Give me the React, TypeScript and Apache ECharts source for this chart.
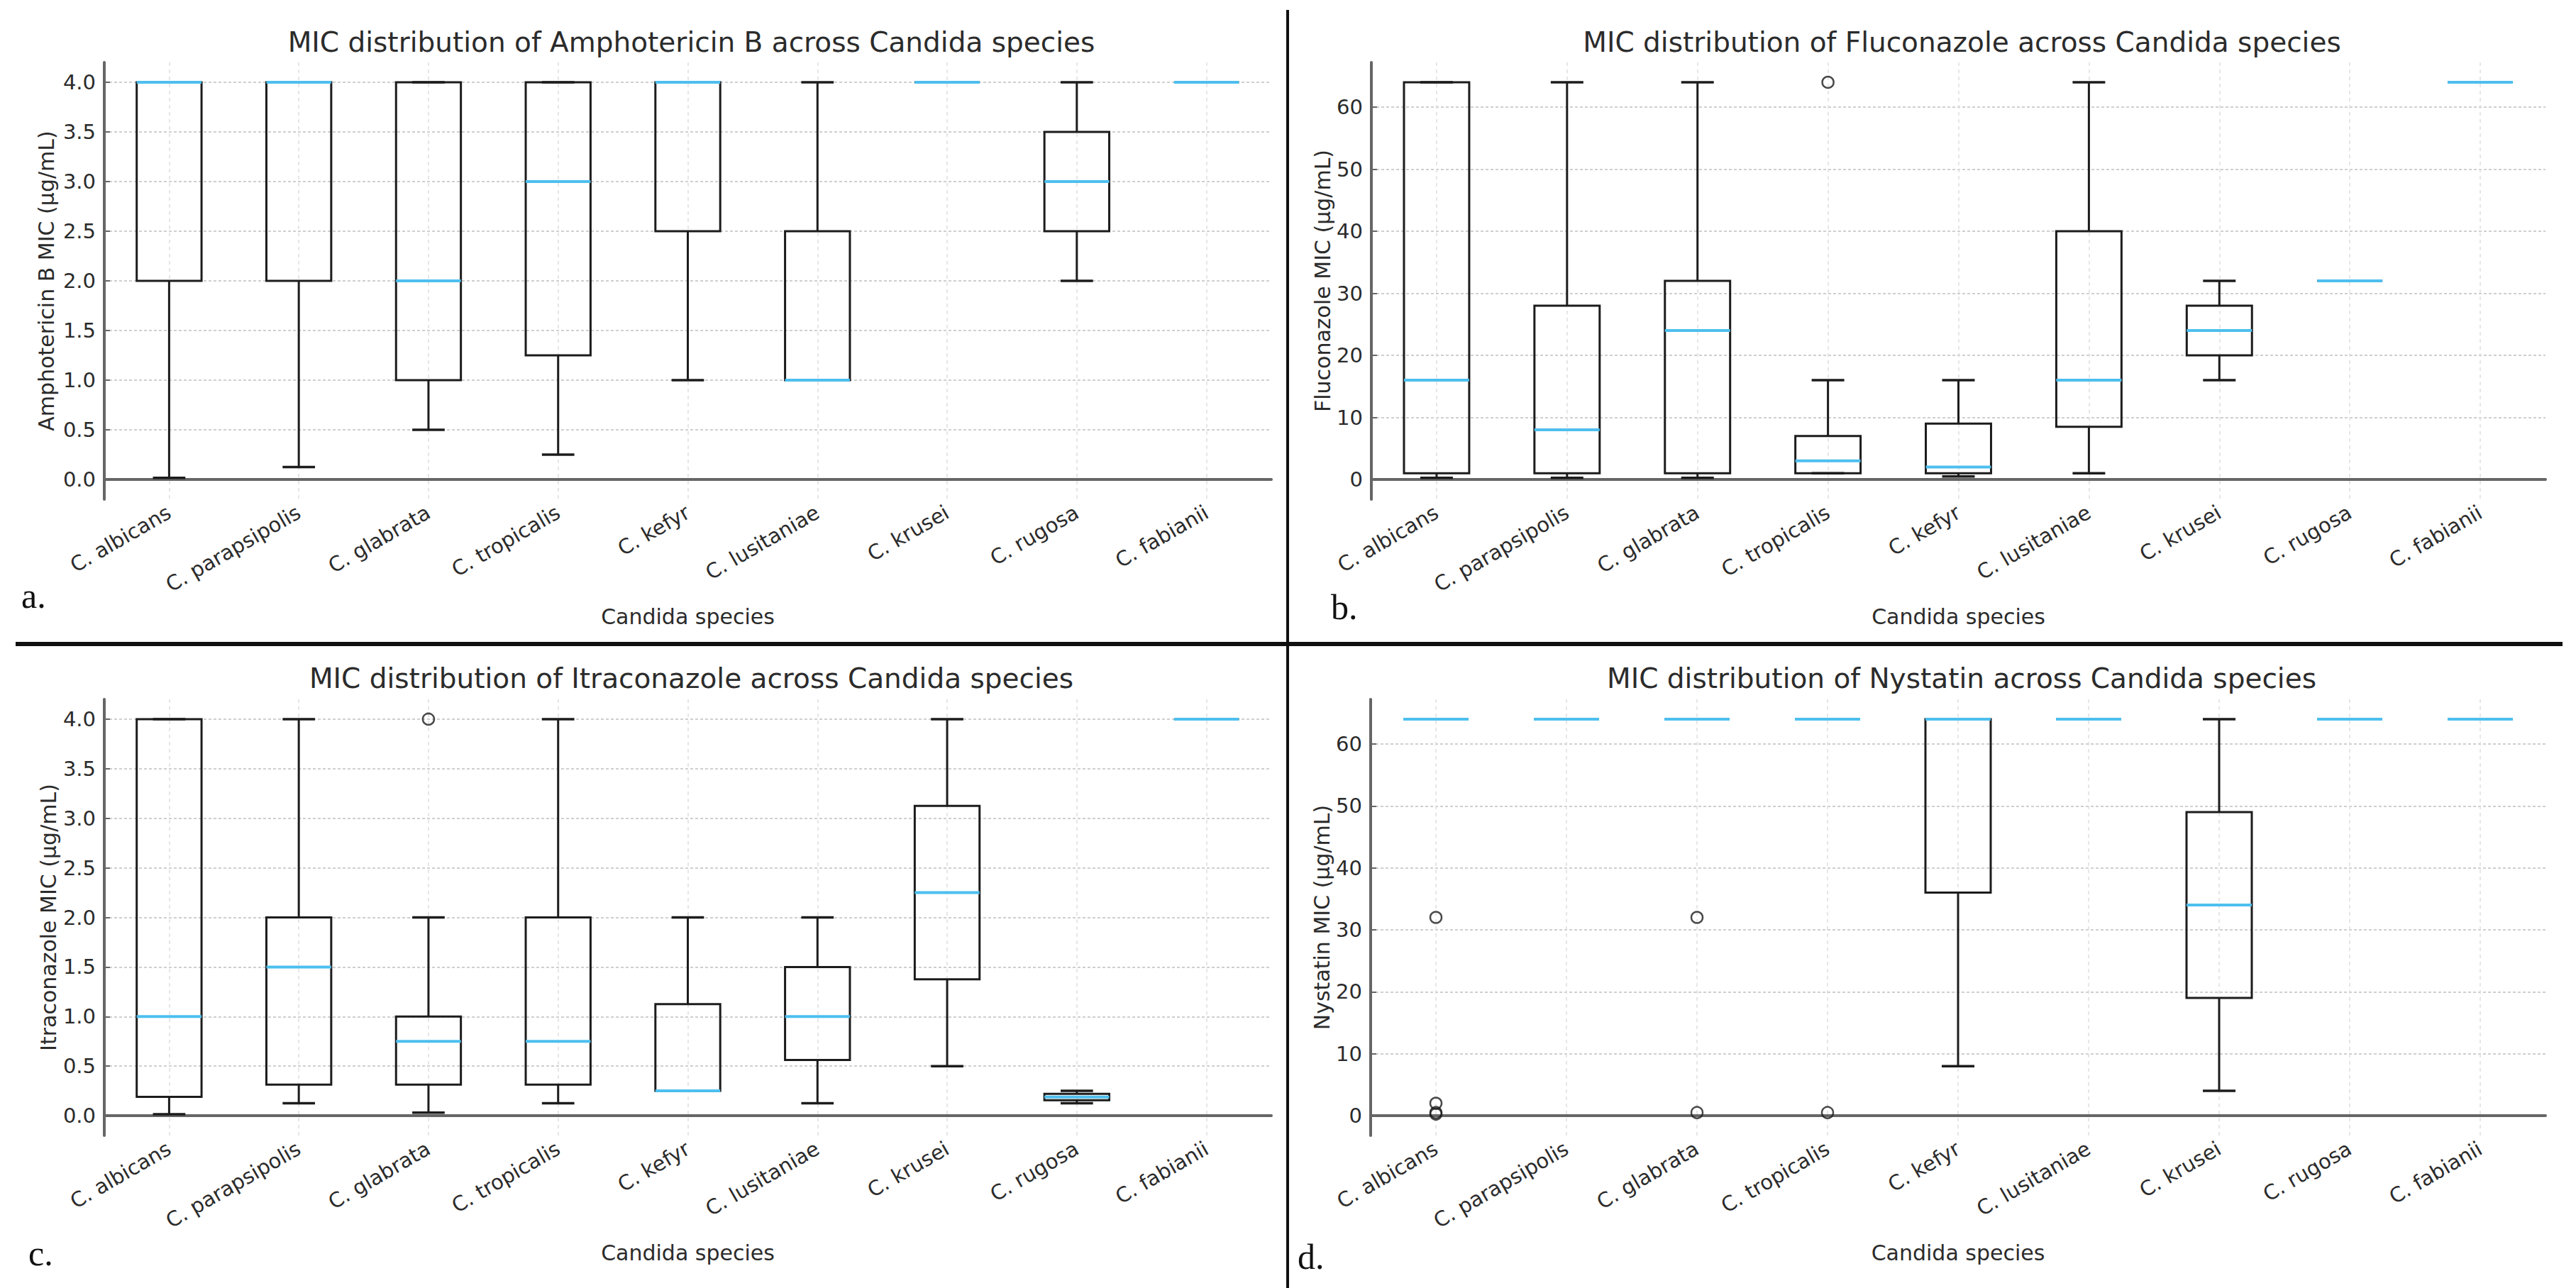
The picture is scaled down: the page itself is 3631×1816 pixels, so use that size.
import React, { useEffect, useRef } from "react";
import * as echarts from "echarts";

const categories = [
  "C. albicans",
  "C. parapsipolis",
  "C. glabrata",
  "C. tropicalis",
  "C. kefyr",
  "C. lusitaniae",
  "C. krusei",
  "C. rugosa",
  "C. fabianii",
];

// a. Amphotericin B
const amphoLow = [0.016, 0.125, 0.5, 0.25, 1, 1, 4, 2, 4];
const amphoQ1 = [2, 2, 1, 1.25, 2.5, 1, 4, 2.5, 4];
const amphoMedian = [4, 4, 2, 3, 4, 1, 4, 3, 4];
const amphoQ3 = [4, 4, 4, 4, 4, 2.5, 4, 3.5, 4];
const amphoHigh = [4, 4, 4, 4, 4, 4, 4, 4, 4];
const amphoOutliers: number[][] = [];

// b. Fluconazole
const flucoLow = [0.25, 0.25, 0.25, 1, 0.5, 1, 16, 32, 64];
const flucoQ1 = [1, 1, 1, 1, 1, 8.5, 20, 32, 64];
const flucoMedian = [16, 8, 24, 3, 2, 16, 24, 32, 64];
const flucoQ3 = [64, 28, 32, 7, 9, 40, 28, 32, 64];
const flucoHigh = [64, 64, 64, 16, 16, 64, 32, 32, 64];
const flucoOutliers = [[3, 64]];

// c. Itraconazole
const itraLow = [0.015, 0.125, 0.03, 0.125, 0.25, 0.125, 0.5, 0.125, 4];
const itraQ1 = [0.19, 0.3125, 0.3125, 0.3125, 0.25, 0.5625, 1.375, 0.156, 4];
const itraMedian = [1, 1.5, 0.75, 0.75, 0.25, 1, 2.25, 0.1875, 4];
const itraQ3 = [4, 2, 1, 2, 1.125, 1.5, 3.125, 0.22, 4];
const itraHigh = [4, 4, 2, 4, 2, 2, 4, 0.25, 4];
const itraOutliers = [[2, 4]];

// d. Nystatin
const nysLow = [64, 64, 64, 64, 8, 64, 4, 64, 64];
const nysQ1 = [64, 64, 64, 64, 36, 64, 19, 64, 64];
const nysMedian = [64, 64, 64, 64, 64, 64, 34, 64, 64];
const nysQ3 = [64, 64, 64, 64, 64, 64, 49, 64, 64];
const nysHigh = [64, 64, 64, 64, 64, 64, 64, 64, 64];
const nysOutliers = [
  [0, 32],
  [0, 2],
  [0, 0.5],
  [0, 0.25],
  [2, 32],
  [2, 0.5],
  [3, 0.5],
];

const smallTicks = [0, 0.5, 1, 1.5, 2, 2.5, 3, 3.5, 4];
const largeTicks = [0, 10, 20, 30, 40, 50, 60];

const FONT = "DejaVu Sans";
const TEXT = "#2b2b2b";
const AXIS = "#666";
const BOX = "#1c1c1c";
const MEDIAN = "#4dbfee";

const panels = [
  {
    title: "MIC distribution of Amphotericin B across Candida species",
    yName: "Amphotericin B MIC (µg/mL)",
    low: amphoLow, q1: amphoQ1, med: amphoMedian, q3: amphoQ3, high: amphoHigh,
    outliers: amphoOutliers,
    yMin: -0.2, yMax: 4.2, ticks: smallTicks, decimals: 1,
    grid: { left: 147, top: 88, width: 1645, height: 616 },
    yGap: 67, titleTop: 35, letter: "a.", lx: 30, ly: 865,
  },
  {
    title: "MIC distribution of Fluconazole across Candida species",
    yName: "Fluconazole MIC (µg/mL)",
    low: flucoLow, q1: flucoQ1, med: flucoMedian, q3: flucoQ3, high: flucoHigh,
    outliers: flucoOutliers,
    yMin: -3.2, yMax: 67.2, ticks: largeTicks, decimals: 0,
    grid: { left: 1933, top: 88, width: 1655, height: 616 },
    yGap: 54, titleTop: 35, letter: "b.", lx: 1876, ly: 881,
  },
  {
    title: "MIC distribution of Itraconazole across Candida species",
    yName: "Itraconazole MIC (µg/mL)",
    low: itraLow, q1: itraQ1, med: itraMedian, q3: itraQ3, high: itraHigh,
    outliers: itraOutliers,
    yMin: -0.2, yMax: 4.2, ticks: smallTicks, decimals: 1,
    grid: { left: 147, top: 986, width: 1645, height: 615 },
    yGap: 64, titleTop: 932, letter: "c.", lx: 40, ly: 1792,
  },
  {
    title: "MIC distribution of Nystatin across Candida species",
    yName: "Nystatin MIC (µg/mL)",
    low: nysLow, q1: nysQ1, med: nysMedian, q3: nysQ3, high: nysHigh,
    outliers: nysOutliers,
    yMin: -3.2, yMax: 67.2, ticks: largeTicks, decimals: 0,
    grid: { left: 1932, top: 986, width: 1656, height: 615 },
    yGap: 54, titleTop: 932, letter: "d.", lx: 1829, ly: 1797,
  },
];

function renderBox(params: any, api: any) {
  const idx = api.value(0);
  const pLow = api.coord([idx, api.value(1)]);
  const pQ1 = api.coord([idx, api.value(2)]);
  const pMed = api.coord([idx, api.value(3)]);
  const pQ3 = api.coord([idx, api.value(4)]);
  const pHigh = api.coord([idx, api.value(5)]);
  const band = api.size([1, 0])[0];
  const cx = pQ1[0];
  const hb = band * 0.25;
  const hc = band * 0.125;
  const ls = { stroke: BOX, lineWidth: 3 };
  return {
    type: "group",
    children: [
      { type: "line", shape: { x1: cx, y1: pLow[1], x2: cx, y2: pQ1[1] }, style: ls },
      { type: "line", shape: { x1: cx, y1: pQ3[1], x2: cx, y2: pHigh[1] }, style: ls },
      {
        type: "rect",
        shape: { x: cx - hb, y: pQ3[1], width: 2 * hb, height: pQ1[1] - pQ3[1] },
        style: { fill: "none", stroke: BOX, lineWidth: 3 },
      },
      { type: "line", shape: { x1: cx - hc, y1: pLow[1], x2: cx + hc, y2: pLow[1] }, style: { stroke: BOX, lineWidth: 3.5 } },
      { type: "line", shape: { x1: cx - hc, y1: pHigh[1], x2: cx + hc, y2: pHigh[1] }, style: { stroke: BOX, lineWidth: 3.5 } },
      { type: "line", shape: { x1: cx - hb, y1: pMed[1], x2: cx + hb, y2: pMed[1] }, style: { stroke: MEDIAN, lineWidth: 4 } },
    ],
  };
}

export default function App() {
  const ref = useRef<HTMLDivElement>(null);
  useEffect(() => {
    if (!ref.current) return;
    const chart = echarts.init(ref.current, null, { renderer: "svg" });
    const grids: any[] = [];
    const xAxes: any[] = [];
    const yAxes: any[] = [];
    const series: any[] = [];
    const titles: any[] = [];
    const graphics: any[] = [];
    panels.forEach((p, i) => {
      grids.push({ ...p.grid, containLabel: false });
      xAxes.push({
        type: "category",
        gridIndex: i,
        data: categories,
        boundaryGap: true,
        name: "Candida species",
        nameLocation: "middle",
        nameGap: 150,
        nameTextStyle: { fontFamily: FONT, fontSize: 30, color: TEXT },
        axisLine: { lineStyle: { color: AXIS, width: 4 } },
        axisTick: { inside: true, length: 8, alignWithLabel: true, lineStyle: { color: AXIS, width: 2 } },
        axisLabel: { rotate: 30, fontFamily: FONT, fontSize: 29, color: TEXT, margin: 16, interval: 0 },
        splitLine: { show: true, alignWithLabel: true, lineStyle: { color: "#dedede", width: 1.5, type: [5, 5] } },
      });
      yAxes.push({
        type: "value",
        gridIndex: i,
        min: p.yMin,
        max: p.yMax,
        name: p.yName,
        nameLocation: "middle",
        nameGap: p.yGap,
        nameTextStyle: { fontFamily: FONT, fontSize: 30, color: TEXT },
        axisLine: { show: true, lineStyle: { color: AXIS, width: 4 } },
        axisTick: { show: true, inside: true, length: 8, customValues: p.ticks, lineStyle: { color: AXIS, width: 2 } },
        axisLabel: {
          customValues: p.ticks,
          fontFamily: FONT,
          fontSize: 29,
          color: TEXT,
          margin: 12,
          formatter: (v: number) => v.toFixed(p.decimals),
        },
        splitLine: { show: true, lineStyle: { color: "#cfcfcf", width: 2, type: [4, 3] } },
      });
      const rows = categories.map((_, k) => [k, p.low[k], p.q1[k], p.med[k], p.q3[k], p.high[k]]);
      series.push({
        type: "custom",
        xAxisIndex: i,
        yAxisIndex: i,
        data: rows,
        encode: { x: 0, y: [1, 2, 3, 4, 5] },
        renderItem: renderBox,
        z: 3,
      });
      series.push({
        type: "scatter",
        xAxisIndex: i,
        yAxisIndex: i,
        data: p.outliers,
        symbol: "circle",
        symbolSize: 16,
        itemStyle: { color: "rgba(255,255,255,0)", borderColor: BOX, borderWidth: 2.5 },
        z: 4,
      });
      titles.push({
        text: p.title,
        left: p.grid.left + p.grid.width / 2,
        top: p.titleTop,
        textAlign: "center",
        textStyle: { fontFamily: FONT, fontSize: 39, fontWeight: "normal", color: TEXT },
      });
      graphics.push({
        type: "text",
        x: p.lx,
        y: p.ly,
        style: {
          text: p.letter,
          font: "50px 'Liberation Serif'",
          fill: "#111",
          textVerticalAlign: "bottom",
          verticalAlign: "bottom",
        },
      });
    });
    graphics.push({
      type: "line",
      shape: { x1: 1815, y1: 14, x2: 1815, y2: 1816 },
      style: { stroke: "#111", lineWidth: 4 },
    });
    graphics.push({
      type: "line",
      shape: { x1: 22, y1: 908, x2: 3612, y2: 908 },
      style: { stroke: "#111", lineWidth: 6 },
    });
    chart.setOption({
      animation: false,
      backgroundColor: "#fff",
      title: titles,
      grid: grids,
      xAxis: xAxes,
      yAxis: yAxes,
      series,
      graphic: graphics,
    });
    return () => chart.dispose();
  }, []);
  return (
    <div
      ref={ref}
      style={{ position: "fixed", left: 0, top: 0, width: 3631, height: 1816, background: "#fff" }}
    />
  );
}
